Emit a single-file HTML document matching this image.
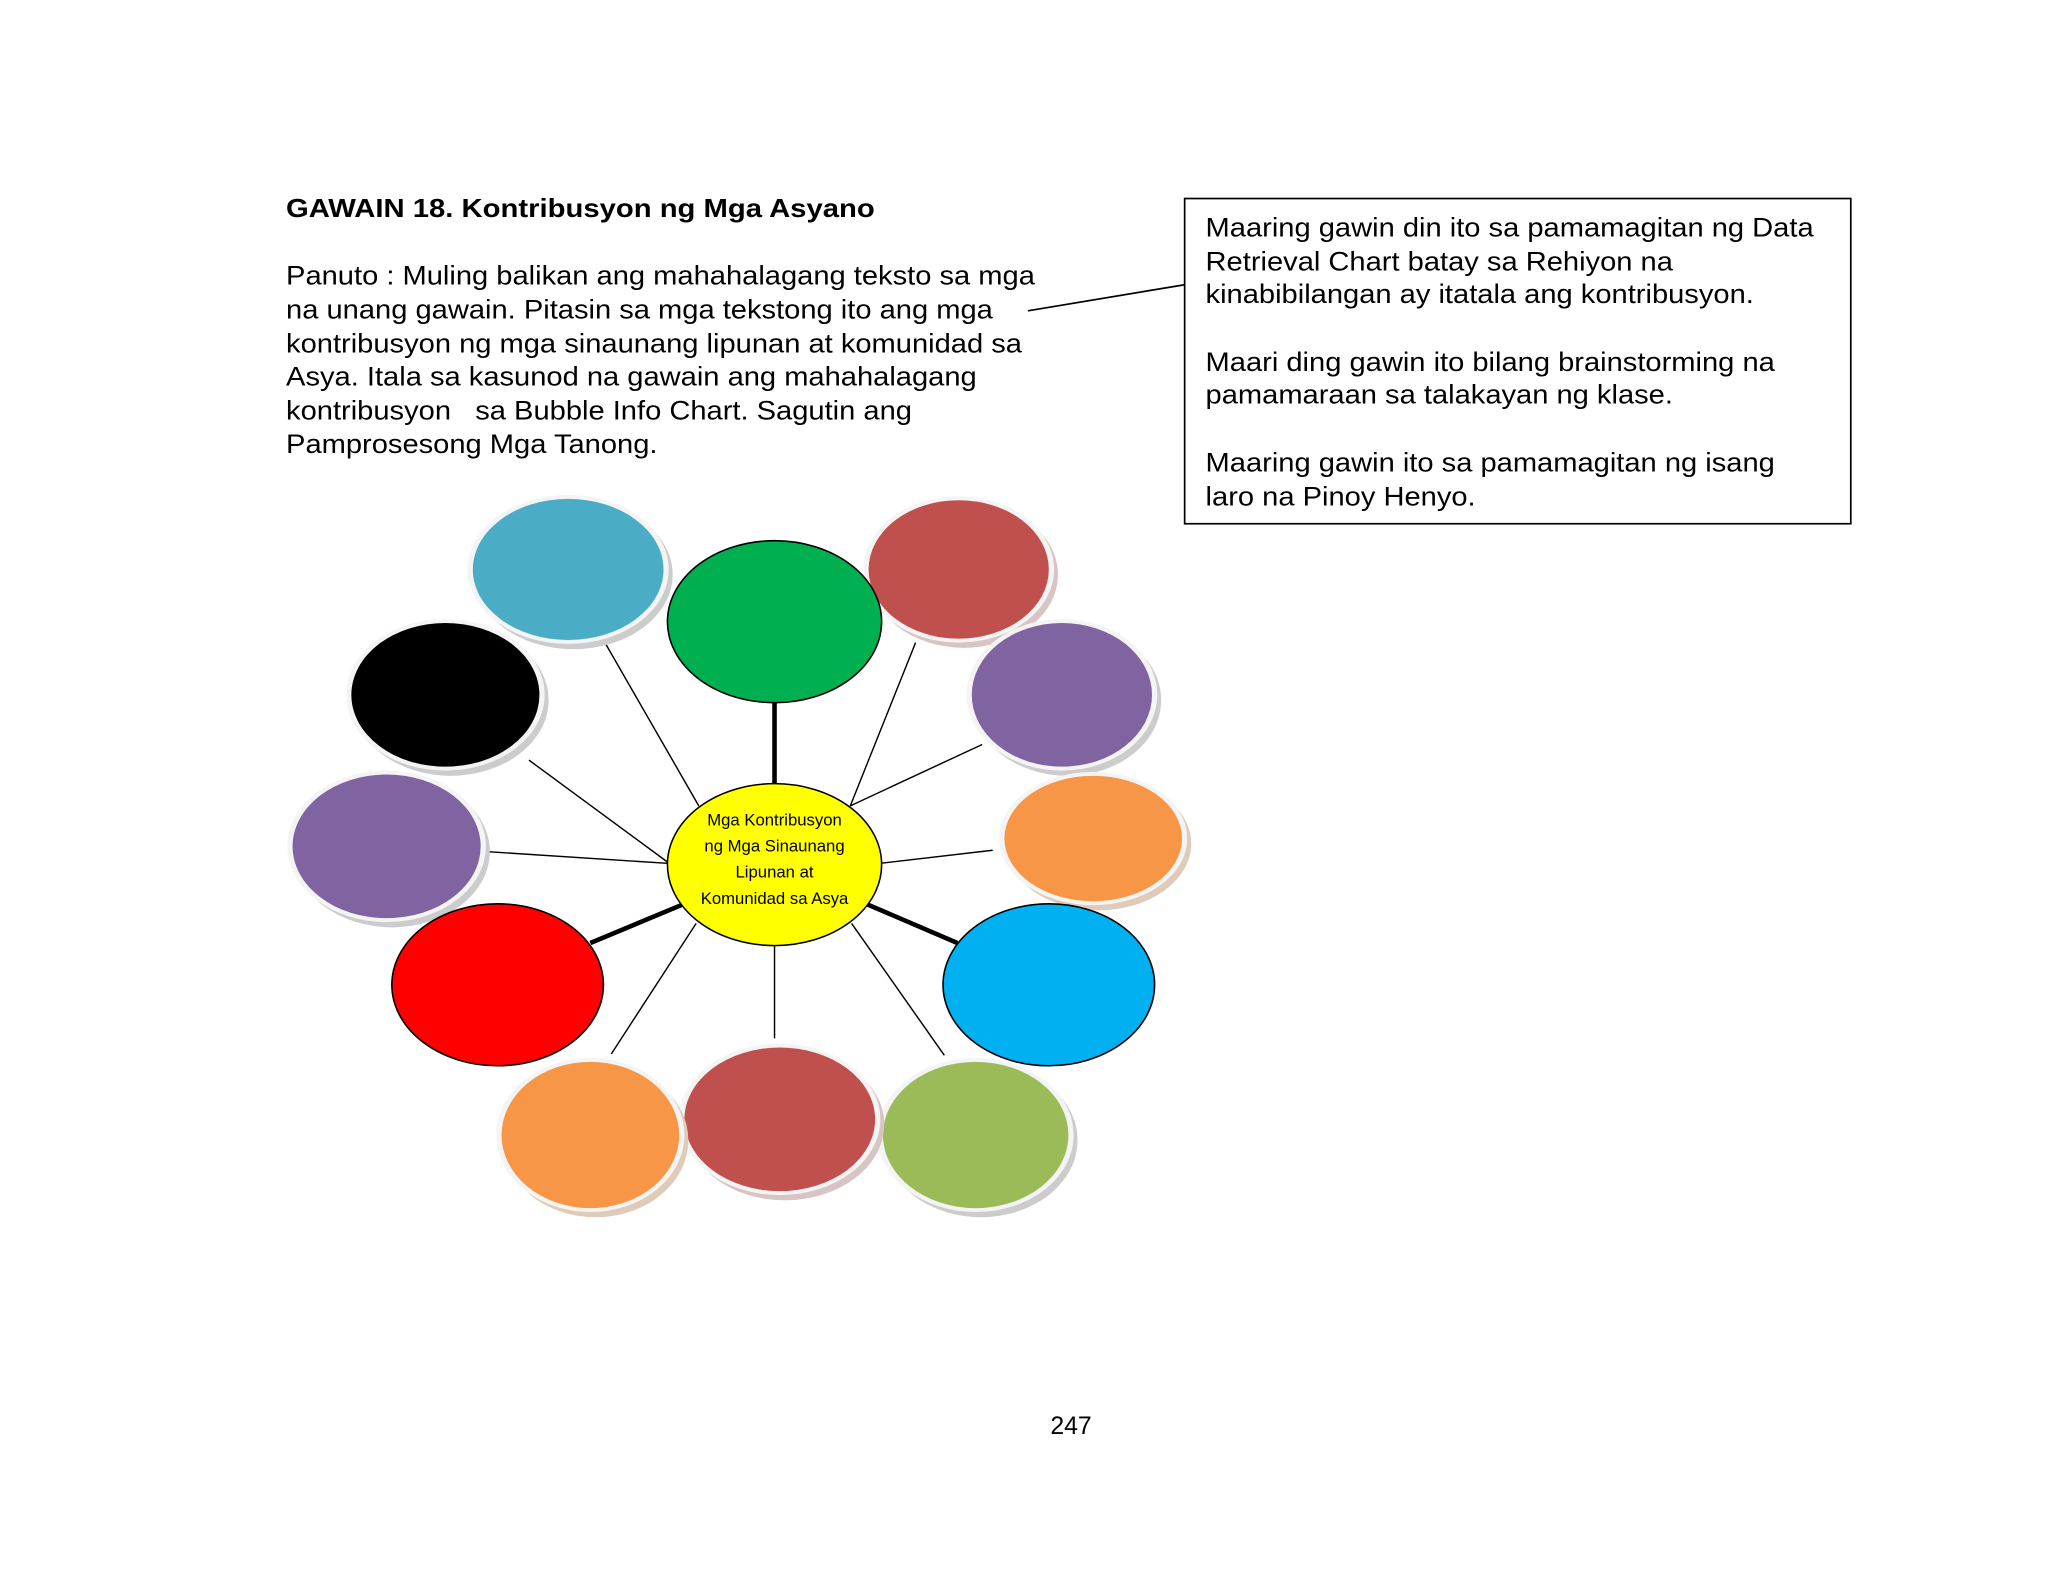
<!DOCTYPE html>
<html><head><meta charset="utf-8"><style>
html,body{margin:0;padding:0;background:#fff;}
svg{display:block;}
text{font-family:"Liberation Sans",Arial,sans-serif;fill:#000;}
</style></head><body>
<svg width="2048" height="1572" viewBox="0 0 1568 1203.6" preserveAspectRatio="none" xmlns="http://www.w3.org/2000/svg">
<rect width="1568" height="1204" fill="#fff"/>
<g transform="translate(219,0) scale(1.12,1) translate(-219,0)">
<text x="219" y="166" font-size="20" font-weight="bold">GAWAIN 18. Kontribusyon ng Mga Asyano</text>
</g>
<g font-size="20.5" transform="translate(219,0) scale(1.087,1) translate(-219,0)">
<text x="219" y="218">Panuto : Muling balikan ang mahahalagang teksto sa mga</text>
<text x="219" y="244">na unang gawain. Pitasin sa mga tekstong ito ang mga</text>
<text x="219" y="270">kontribusyon ng mga sinaunang lipunan at komunidad sa</text>
<text x="219" y="295">Asya. Itala sa kasunod na gawain ang mahahalagang</text>
<text x="219" y="321" xml:space="preserve">kontribusyon   sa Bubble Info Chart. Sagutin ang</text>
<text x="219" y="347">Pamprosesong Mga Tanong.</text>
</g>
<rect x="907" y="152" width="510" height="249" fill="none" stroke="#000" stroke-width="1.3"/>
<g font-size="20.5" transform="translate(923,0) scale(1.087,1) translate(-923,0)">
<text x="923" y="181">Maaring gawin din ito sa pamamagitan ng Data</text>
<text x="923" y="207">Retrieval Chart batay sa Rehiyon na</text>
<text x="923" y="232">kinabibilangan ay itatala ang kontribusyon.</text>
<text x="923" y="284">Maari ding gawin ito bilang brainstorming na</text>
<text x="923" y="309">pamamaraan sa talakayan ng klase.</text>
<text x="923" y="361">Maaring gawin ito sa pamamagitan ng isang</text>
<text x="923" y="387">laro na Pinoy Henyo.</text>
</g>
<line x1="787" y1="238" x2="907" y2="218" stroke="#000" stroke-width="1.3"/>
<g stroke="#000" stroke-width="1.1">
<line x1="462" y1="490" x2="535" y2="617"/>
<line x1="405" y1="582" x2="511" y2="660"/>
<line x1="372" y1="652" x2="511" y2="661"/>
<line x1="468" y1="807" x2="533" y2="707"/>
<line x1="593" y1="724" x2="593" y2="795"/>
<line x1="723" y1="808" x2="652" y2="707"/>
<line x1="674" y1="661" x2="760" y2="651"/>
<line x1="651" y1="617" x2="752" y2="570"/>
<line x1="701" y1="492" x2="651" y2="617"/>
</g>
<g stroke="#000" stroke-width="3.5">
<line x1="593" y1="538" x2="593" y2="600"/>
<line x1="452" y1="722" x2="524" y2="692"/>
<line x1="663" y1="692" x2="733" y2="722"/>
</g>
<g>
<ellipse cx="439" cy="440" rx="76" ry="57" fill="#ccc"/><ellipse cx="435" cy="436" rx="77" ry="57" fill="#f4f4f4"/><ellipse cx="435" cy="436" rx="73" ry="54" fill="#4BACC6"/>
<ellipse cx="738" cy="440" rx="72" ry="56" fill="#d8c4c4"/><ellipse cx="734" cy="436" rx="73" ry="56" fill="#f4f4f4"/><ellipse cx="734" cy="436" rx="69" ry="53" fill="#C0504D"/>
<ellipse cx="817" cy="536" rx="72" ry="58" fill="#ccc"/><ellipse cx="813" cy="532" rx="73" ry="58" fill="#f4f4f4"/><ellipse cx="813" cy="532" rx="69" ry="55" fill="#8064A2"/>
<ellipse cx="841" cy="646" rx="71" ry="51" fill="#e0cbb8"/><ellipse cx="837" cy="642" rx="72" ry="51" fill="#f4f4f4"/><ellipse cx="837" cy="642" rx="68" ry="48" fill="#F79646"/>
<ellipse cx="751" cy="873" rx="74" ry="59" fill="#ccc"/><ellipse cx="747" cy="869" rx="75" ry="59" fill="#f4f4f4"/><ellipse cx="747" cy="869" rx="71" ry="56" fill="#9BBB59"/>
<ellipse cx="601" cy="861" rx="76" ry="58" fill="#d8c4c4"/><ellipse cx="597" cy="857" rx="77" ry="58" fill="#f4f4f4"/><ellipse cx="597" cy="857" rx="73" ry="55" fill="#C0504D"/>
<ellipse cx="456" cy="873" rx="71" ry="59" fill="#e0cbb8"/><ellipse cx="452" cy="869" rx="72" ry="59" fill="#f4f4f4"/><ellipse cx="452" cy="869" rx="68" ry="56" fill="#F79646"/>
<ellipse cx="300" cy="652" rx="75" ry="58" fill="#ccc"/><ellipse cx="296" cy="648" rx="76" ry="58" fill="#f4f4f4"/><ellipse cx="296" cy="648" rx="72" ry="55" fill="#8064A2"/>
<ellipse cx="345" cy="536" rx="75" ry="58" fill="#ccc"/><ellipse cx="341" cy="532" rx="76" ry="58" fill="#f4f4f4"/><ellipse cx="341" cy="532" rx="72" ry="55" fill="#000"/>
</g>
<ellipse cx="593" cy="476" rx="82" ry="62" fill="#00B050" stroke="#000" stroke-width="1.2"/>
<ellipse cx="803" cy="754" rx="81" ry="62" fill="#00B0F0" stroke="#000" stroke-width="1.2"/>
<ellipse cx="381" cy="754" rx="81" ry="62" fill="#FF0000" stroke="#000" stroke-width="1.2"/>
<ellipse cx="593" cy="662" rx="82" ry="62" fill="#FFFF00" stroke="#000" stroke-width="1.2"/>
<g font-size="12.8" text-anchor="middle">
<text x="593" y="632">Mga Kontribusyon</text>
<text x="593" y="652">ng Mga Sinaunang</text>
<text x="593" y="672">Lipunan at</text>
<text x="593" y="692">Komunidad sa Asya</text>
</g>
<text x="820" y="1098" font-size="19" text-anchor="middle">247</text>
</svg>
</body></html>
